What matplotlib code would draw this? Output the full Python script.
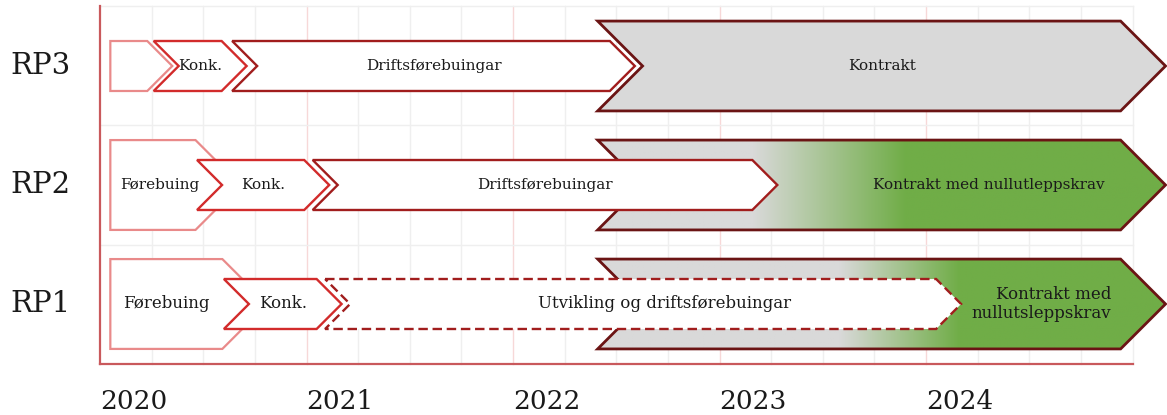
"""Framdriftsplan RP1-RP3: piler per fase, 2020-2025."""
import numpy as np
import matplotlib
matplotlib.use("Agg")
import matplotlib.pyplot as plt
from matplotlib.patches import Polygon
from matplotlib.colors import to_rgb

# --- data (år) ---
rows = ["RP1", "RP2", "RP3"]
years = [2020, 2021, 2022, 2023, 2024]

rp3_labels = ["", "Konk.", "Driftsførebuingar", "Kontrakt"]
rp3_start = [2020.05, 2020.26, 2020.64, 2022.41]
rp3_end = [2020.35, 2020.71, 2022.59, 2025.16]

rp2_labels = ["Førebuing", "Konk.", "Driftsførebuingar", "Kontrakt med nullutleppskrav"]
rp2_start = [2020.05, 2020.47, 2021.03, 2022.41]
rp2_end = [2020.68, 2021.11, 2023.28, 2025.16]

rp1_labels = ["Førebuing", "Konk.", "Utvikling og driftsførebuingar", "Kontrakt med\nnullutsleppskrav"]
rp1_start = [2020.05, 2020.60, 2021.09, 2022.41]
rp1_end = [2020.81, 2021.17, 2024.17, 2025.16]

# overgang grå -> grøn i kontraktspila
rp3_green = None
rp2_green = (2023.16, 2023.90)
rp1_green = (2023.58, 2024.16)

# --- stil ---
PX_X, PX_Y = 206.5, 119.0          # piksel per år / per rad
C_LIGHT, C_KONK, C_DRIFT, C_KONTR = "#E98A8A", "#D22B2B", "#A11D1D", "#6B1414"
GRAY, GREEN = "#D9D9D9", "#70AD47"
GRID, GRID_YEAR, AXIS = "#EFEFEF", "#F7D8D8", "#C9595C"
TXT = "#1A1A1A"
SMALL_H, BIG_H = 0.42, 0.755
plt.rcParams["font.family"] = ["DejaVu Serif"]

fig = plt.figure(figsize=(11.67, 4.15), dpi=100)
ax = fig.add_axes([0, 0, 1, 1])
ax.set_xlim(2020 - 100 / PX_X, 2020 + 1067 / PX_X)
ax.set_ylim((304 - 415) / PX_Y, 304 / PX_Y)
ax.axis("off")

# rutenett
for q in np.arange(2020.25, 2025.01, 0.25):
    is_year = abs(q - round(q)) < 1e-6 and q < 2025
    ax.plot([q, q], [-0.5, 2.5], color=GRID_YEAR if is_year else GRID, lw=1.0, zorder=0)
for yb in [0.5, 1.5, 2.5]:
    ax.plot([2020, 2025], [yb, yb], color=GRID, lw=1.0, zorder=0)
ax.plot([2020, 2020], [-0.5, 2.5], color=AXIS, lw=1.6, zorder=1)
ax.plot([2020, 2025], [-0.5, -0.5], color=AXIS, lw=1.6, zorder=1)


def arrow_pts(x0, x1, yc, h, notch):
    hh = h / 2
    t = hh * PX_Y / PX_X
    pts = [(x0, yc + hh), (x1 - t, yc + hh), (x1, yc), (x1 - t, yc - hh), (x0, yc - hh)]
    if notch:
        pts.append((x0 + t, yc))
    return pts


def gradient_fill(pts, x0, x1, yc, h, g, z):
    clip = Polygon(pts, closed=True, facecolor="none", edgecolor="none", zorder=z)
    ax.add_patch(clip)
    xs = np.linspace(x0, x1, 600)
    f = np.clip((xs - g[0]) / (g[1] - g[0]), 0, 1)[:, None]
    col = (1 - f) * np.array(to_rgb(GRAY)) + f * np.array(to_rgb(GREEN))
    im = ax.imshow(col[None, :, :], extent=[x0, x1, yc - h / 2, yc + h / 2],
                   aspect="auto", interpolation="bilinear", zorder=z)
    im.set_clip_path(clip)


def draw_row(yc, labels, start, end, green, small_first, dashed_drift, label_x):
    # kontrakt bak, så førebuing, konk, drift
    h = BIG_H
    pts = arrow_pts(start[3], end[3], yc, h, True)
    if green is None:
        ax.add_patch(Polygon(pts, closed=True, facecolor=GRAY, edgecolor="none", zorder=2))
    else:
        gradient_fill(pts, start[3], end[3], yc, h, green, 2)
    ax.add_patch(Polygon(pts, closed=True, fill=False, edgecolor=C_KONTR, lw=2.0, zorder=2.1))

    h0 = SMALL_H if small_first else BIG_H
    ax.add_patch(Polygon(arrow_pts(start[0], end[0], yc, h0, False), closed=True,
                         facecolor="white", edgecolor=C_LIGHT, lw=1.6, zorder=3))
    ax.add_patch(Polygon(arrow_pts(start[1], end[1], yc, SMALL_H, True), closed=True,
                         facecolor="white", edgecolor=C_KONK, lw=1.7, zorder=4))
    ax.add_patch(Polygon(arrow_pts(start[2], end[2], yc, SMALL_H, True), closed=True,
                         facecolor="white", edgecolor=C_DRIFT, lw=1.7, zorder=5,
                         linestyle=(0, (4, 2)) if dashed_drift else "-"))

    for i, lab in enumerate(labels):
        if not lab:
            continue
        x = label_x.get(i, (start[i] + end[i]) / 2)
        ax.text(x, yc, lab, ha="center", va="center", color=TXT, zorder=6,
                fontsize=label_x.get("fs", 11), multialignment="right", linespacing=1.1)


draw_row(2, rp3_labels, rp3_start, rp3_end, rp3_green, True, False, {0: None})
draw_row(1, rp2_labels, rp2_start, rp2_end, rp2_green, False, False,
         {0: 2020.29, 3: 2024.305})
draw_row(0, rp1_labels, rp1_start, rp1_end, rp1_green, False, True,
         {0: 2020.32, 2: 2022.736, 3: 2024.56, "fs": 12})

for i, r in enumerate(rows):
    ax.text(2020 - 60 / PX_X, i, r, ha="center", va="center", fontsize=21, color=TXT)
for yr in years:
    ax.text(yr, (304 - 401) / PX_Y, str(yr), ha="left", va="center", fontsize=19, color=TXT)

fig.savefig("out.png", dpi=100)
